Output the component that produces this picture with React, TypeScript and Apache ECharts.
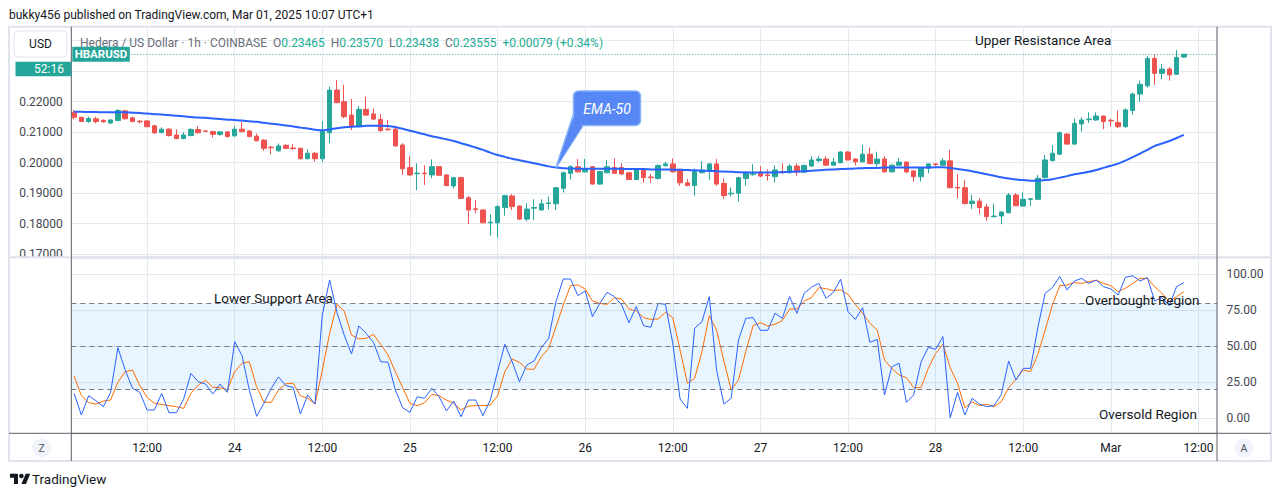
import React, { useEffect, useRef } from 'react';
import * as echarts from 'echarts';

// Hours counted from 23 Feb 2025 00:00 (UTC+1); first candle opens at 02:00.
const START_HOUR = 2;
const X_MIN = 1.618;
const X_MAX = 158.54;

const X_TICK_HOURS = [12, 24, 36, 48, 60, 72, 84, 96, 108, 120, 132, 144, 156];
const X_TICK_LABELS = ['12:00', '24', '12:00', '25', '12:00', '26', '12:00', '27', '12:00', '28', '12:00', 'Mar', '12:00'];

const OPEN = [
  0.2164, 0.2149, 0.2135, 0.2144, 0.2139, 0.2130, 0.2138, 0.2170, 0.2147, 0.2136,
  0.2137, 0.2121, 0.2099, 0.2110, 0.2091, 0.2079, 0.2089, 0.2109, 0.2104, 0.2102,
  0.2093, 0.2101, 0.2088, 0.2110, 0.2104, 0.2087, 0.2074, 0.2051, 0.2039, 0.2057,
  0.2048, 0.2047, 0.2013, 0.2031, 0.2013, 0.2098, 0.2238, 0.2200, 0.2156, 0.2120,
  0.2175, 0.2160, 0.2142, 0.2110, 0.2110, 0.2058, 0.1984, 0.1964, 0.1966, 0.1960,
  0.1987, 0.1960, 0.1924, 0.1951, 0.1885, 0.1849, 0.1845, 0.1803, 0.1803, 0.1853,
  0.1891, 0.1858, 0.1815, 0.1851, 0.1845, 0.1866, 0.1865, 0.1916, 0.1965, 0.1987,
  0.1970, 0.1987, 0.1930, 0.1967, 0.1984, 0.1984, 0.1967, 0.1945, 0.1976, 0.1953,
  0.1948, 0.1990, 0.1996, 0.1978, 0.1934, 0.1925, 0.1967, 0.1974, 0.1996, 0.1932,
  0.1898, 0.1900, 0.1948, 0.1961, 0.1969, 0.1960, 0.1954, 0.1971, 0.1967, 0.1989,
  0.1969, 0.1989, 0.2007, 0.2012, 0.1992, 0.2000, 0.2035, 0.2012, 0.2003, 0.2028,
  0.1997, 0.2012, 0.1970, 0.1992, 0.2002, 0.1973, 0.1954, 0.1982, 0.1996, 0.1992,
  0.2006, 0.1919, 0.1918, 0.1866, 0.1874, 0.1855, 0.1823, 0.1825, 0.1836, 0.1894,
  0.1858, 0.1880, 0.1880, 0.1951, 0.2007, 0.2028, 0.2094, 0.2061, 0.2127, 0.2141,
  0.2140, 0.2153, 0.2139, 0.2132, 0.2118, 0.2171, 0.2225, 0.2252, 0.2342, 0.2293,
  0.2307, 0.2290, 0.23465,
];
const HIGH = [
  0.2173, 0.2150, 0.2151, 0.2151, 0.2142, 0.2143, 0.2176, 0.2173, 0.2151, 0.2140,
  0.2140, 0.2124, 0.2116, 0.2113, 0.2109, 0.2100, 0.2113, 0.2120, 0.2107, 0.2105,
  0.2104, 0.2104, 0.2120, 0.2135, 0.2107, 0.2096, 0.2077, 0.2055, 0.2063, 0.2060,
  0.2061, 0.2050, 0.2044, 0.2036, 0.2137, 0.2249, 0.2271, 0.2255, 0.2209, 0.2186,
  0.2216, 0.2178, 0.2160, 0.2140, 0.2118, 0.2064, 0.2022, 0.1998, 0.1992, 0.2011,
  0.1989, 0.1962, 0.1954, 0.1954, 0.1891, 0.1878, 0.1848, 0.1832, 0.1861, 0.1894,
  0.1897, 0.1860, 0.1867, 0.1880, 0.1880, 0.1889, 0.1921, 0.1971, 0.1992, 0.2012,
  0.2012, 0.1989, 0.1973, 0.2009, 0.2014, 0.1998, 0.1969, 0.1978, 0.1980, 0.1963,
  0.1994, 0.2003, 0.2014, 0.1980, 0.1946, 0.1981, 0.2005, 0.1998, 0.2012, 0.1949,
  0.1919, 0.1954, 0.1973, 0.1995, 0.1989, 0.1978, 0.1991, 0.1998, 0.1995, 0.1998,
  0.1994, 0.2022, 0.2022, 0.2022, 0.2016, 0.2038, 0.2037, 0.2014, 0.2058, 0.2050,
  0.2036, 0.2022, 0.1995, 0.2015, 0.2004, 0.1975, 0.1986, 0.1998, 0.1998, 0.2015,
  0.2042, 0.1962, 0.1943, 0.1894, 0.1883, 0.1865, 0.1865, 0.1841, 0.1900, 0.1900,
  0.1903, 0.1884, 0.1960, 0.2025, 0.2058, 0.2102, 0.2096, 0.2145, 0.2149, 0.2165,
  0.2165, 0.2155, 0.2145, 0.2171, 0.2178, 0.2230, 0.2269, 0.2350, 0.2355, 0.2324,
  0.2313, 0.2369, 0.2357,
];
const LOW = [
  0.2142, 0.2133, 0.2131, 0.2129, 0.2131, 0.2128, 0.2136, 0.2142, 0.2132, 0.2129,
  0.2116, 0.2094, 0.2096, 0.2086, 0.2077, 0.2077, 0.2087, 0.2096, 0.2101, 0.2083,
  0.2088, 0.2082, 0.2086, 0.2100, 0.2083, 0.2070, 0.2039, 0.2027, 0.2036, 0.2044,
  0.2042, 0.2011, 0.2011, 0.2003, 0.2003, 0.2064, 0.2195, 0.2145, 0.2107, 0.2118,
  0.2154, 0.2140, 0.2102, 0.2105, 0.2053, 0.1960, 0.1957, 0.1910, 0.1927, 0.1949,
  0.1957, 0.1923, 0.1916, 0.1881, 0.1799, 0.1834, 0.1801, 0.1761, 0.1754, 0.1826,
  0.1845, 0.1812, 0.1807, 0.1812, 0.1843, 0.1847, 0.1845, 0.1902, 0.1945, 0.1968,
  0.1968, 0.1928, 0.1928, 0.1965, 0.1963, 0.1960, 0.1943, 0.1943, 0.1934, 0.1934,
  0.1945, 0.1987, 0.1968, 0.1924, 0.1923, 0.1892, 0.1965, 0.1943, 0.1924, 0.1882,
  0.1889, 0.1872, 0.1925, 0.1957, 0.1952, 0.1941, 0.1935, 0.1963, 0.1965, 0.1957,
  0.1967, 0.1987, 0.2001, 0.1990, 0.1990, 0.1998, 0.2007, 0.1991, 0.2001, 0.1995,
  0.1987, 0.1967, 0.1968, 0.1990, 0.1965, 0.1938, 0.1938, 0.1965, 0.1989, 0.1990,
  0.1916, 0.1883, 0.1863, 0.1848, 0.1832, 0.1810, 0.1820, 0.1798, 0.1834, 0.1857,
  0.1856, 0.1858, 0.1878, 0.1949, 0.2004, 0.2025, 0.2059, 0.2059, 0.2102, 0.2131,
  0.2138, 0.2110, 0.2118, 0.2113, 0.2115, 0.2157, 0.2200, 0.2246, 0.2255, 0.2274,
  0.2269, 0.2288, 0.23438,
];
const CLOSE = [
  0.2149, 0.2135, 0.2145, 0.2135, 0.2134, 0.2140, 0.2171, 0.2144, 0.2135, 0.2134,
  0.2118, 0.2098, 0.2110, 0.2089, 0.2079, 0.2091, 0.2109, 0.2098, 0.2103, 0.2093,
  0.2101, 0.2086, 0.2110, 0.2102, 0.2086, 0.2072, 0.2047, 0.2049, 0.2055, 0.2047,
  0.2046, 0.2013, 0.2031, 0.2013, 0.2102, 0.2238, 0.2197, 0.2151, 0.2118, 0.2175,
  0.2156, 0.2143, 0.2105, 0.2108, 0.2055, 0.1980, 0.1960, 0.1966, 0.1964, 0.1987,
  0.1959, 0.1925, 0.1951, 0.1883, 0.1845, 0.1847, 0.1803, 0.1805, 0.1856, 0.1892,
  0.1856, 0.1815, 0.1848, 0.1853, 0.1865, 0.1868, 0.1918, 0.1967, 0.1987, 0.1970,
  0.1981, 0.1930, 0.1971, 0.1987, 0.1965, 0.1963, 0.1945, 0.1976, 0.1951, 0.1951,
  0.1991, 0.1996, 0.1970, 0.1934, 0.1925, 0.1971, 0.1976, 0.1996, 0.1930, 0.1892,
  0.1900, 0.1951, 0.1969, 0.1963, 0.1956, 0.1958, 0.1976, 0.1969, 0.1989, 0.1969,
  0.1991, 0.2009, 0.2012, 0.1992, 0.2002, 0.2035, 0.2009, 0.2003, 0.2028, 0.1997,
  0.2012, 0.1970, 0.1992, 0.2002, 0.1970, 0.1954, 0.1984, 0.1996, 0.1994, 0.2006,
  0.1918, 0.1917, 0.1866, 0.1874, 0.1853, 0.1823, 0.1825, 0.1838, 0.1894, 0.1859,
  0.1880, 0.1882, 0.1949, 0.2009, 0.2031, 0.2098, 0.2061, 0.2129, 0.2140, 0.2143,
  0.2153, 0.2135, 0.2137, 0.2118, 0.2173, 0.2225, 0.2257, 0.2342, 0.2293, 0.2307,
  0.2288, 0.2345, 0.23555,
];

const EMA50 = [
  0.2167, 0.2167, 0.2166, 0.2166, 0.2165, 0.2165, 0.2165, 0.2165, 0.2164, 0.2163,
  0.2161, 0.2159, 0.2158, 0.2156, 0.2154, 0.2152, 0.2150, 0.2148, 0.2147, 0.2145,
  0.2143, 0.2141, 0.2140, 0.2138, 0.2136, 0.2134, 0.2131, 0.2128, 0.2125, 0.2122,
  0.2119, 0.2115, 0.2112, 0.2108, 0.2106, 0.2109, 0.2113, 0.2116, 0.2118, 0.2119,
  0.2121, 0.2121, 0.2121, 0.2120, 0.2117, 0.2111, 0.2105, 0.2099, 0.2093, 0.2087,
  0.2082, 0.2077, 0.2071, 0.2064, 0.2057, 0.2050, 0.2042, 0.2033, 0.2025, 0.2019,
  0.2013, 0.2008, 0.2003, 0.1998, 0.1993, 0.1988, 0.1984, 0.1982, 0.1981, 0.1980,
  0.1980, 0.1980, 0.1980, 0.1980, 0.1980, 0.1980, 0.1979, 0.1979, 0.1979, 0.1978,
  0.1978, 0.1978, 0.1977, 0.1977, 0.1976, 0.1975, 0.1974, 0.1973, 0.1972, 0.1971,
  0.1970, 0.1969, 0.1968, 0.1968, 0.1968, 0.1968, 0.1968, 0.1969, 0.1970, 0.1971,
  0.1972, 0.1974, 0.1975, 0.1977, 0.1978, 0.1979, 0.1980, 0.1981, 0.1982, 0.1983,
  0.1983, 0.1984, 0.1984, 0.1984, 0.1984, 0.1984, 0.1984, 0.1984, 0.1985, 0.1985,
  0.1983, 0.1979, 0.1976, 0.1972, 0.1967, 0.1962, 0.1957, 0.1952, 0.1948, 0.1945,
  0.1943, 0.1941, 0.1941, 0.1943, 0.1946, 0.1951, 0.1956, 0.1962, 0.1966, 0.1970,
  0.1976, 0.1983, 0.1990, 0.1997, 0.2007, 0.2018, 0.2030, 0.2042, 0.2055, 0.2063,
  0.2071, 0.2081, 0.2091,
];

const STOCH_K = [
  17.3, 2.3, 15.7, 12.2, 8.1, 18, 49, 33.5, 20.8, 18,
  5.8, 5.8, 17.3, 3.9, 3.9, 13.2, 31.2, 25.4, 23.8, 16.9,
  23.8, 18, 53.2, 43.5, 19.7, 1.4, 10.4, 20.8, 28.7, 22.7,
  21.5, 3, 16.2, 9.9, 71.7, 96, 73.6, 57.8, 44.7, 64.1,
  59, 52.8, 39.3, 38.9, 19.7, 7.4, 4.1, 15, 13.9, 20.8,
  15, 5.1, 12, 1.1, 12.7, 12.7, 1.8, 12.7, 32.4, 51.4,
  39.3, 25.4, 37, 39.8, 49, 55.5, 81, 96.7, 96.7, 85.2,
  88.4, 70.6, 79.8, 87.5, 84.5, 78.7, 66.4, 77.5, 64.3, 63.2,
  79.8, 79.1, 52, 13.4, 6.9, 62.5, 67.1, 84.5, 33.5, 9.9,
  13.9, 54.4, 69.4, 69.9, 61.1, 61.1, 72.9, 69.4, 84.5, 72.9,
  86.8, 91, 93.7, 83.3, 87.5, 96.5, 74.1, 68.7, 76.8, 52.8,
  54.8, 16.2, 35.8, 38.2, 11.1, 16.2, 38.9, 49.3, 47.9, 56.7,
  0.4, 18, 2.3, 13.9, 9.9, 8.1, 8.8, 16.6, 39.8, 26.6,
  34.7, 34.7, 63, 86.8, 90.7, 98.4, 89.1, 95.3, 97.2, 93.7,
  96, 91.4, 89.8, 85.6, 97.9, 99, 95.3, 97.7, 81.5, 83.8,
  78.2, 91.4, 94.2,
];
const STOCH_D = [
  29.4, 15.7, 10.9, 9.9, 12, 12.7, 25, 32.4, 33.5, 22.7,
  14.6, 10.4, 9.7, 8.8, 8.1, 6.9, 17.3, 23.1, 26.4, 21.5,
  21.3, 19.7, 32.4, 38.2, 39.3, 22, 11.1, 11.1, 19.7, 24,
  24.3, 15.7, 13.9, 9.9, 33.5, 59, 79.1, 74.5, 57.8, 55.1,
  55.5, 58.3, 51.4, 44, 32.4, 21.3, 10.4, 8.8, 10.9, 16.6,
  15.7, 12.7, 10.4, 5.8, 8.5, 8.8, 8.8, 9.2, 15.7, 32.4,
  41.2, 38.9, 34.2, 34, 42.8, 48.6, 63.6, 78.7, 92.1, 92.6,
  89.8, 81.5, 79.8, 79.1, 83.8, 82.8, 75.9, 74.5, 69.9, 68.7,
  69, 73.6, 69.9, 47.4, 24.3, 27.8, 46.3, 71.3, 61.3, 39.8,
  19.7, 26.6, 46.3, 64.3, 66.4, 64.1, 65.3, 67.8, 75.9, 75.9,
  81.5, 83.8, 90.7, 90, 88.6, 89.2, 86.1, 79.1, 72.9, 66,
  61.3, 40.5, 34.7, 30.1, 28.2, 21.3, 21.3, 34.7, 45.1, 51.4,
  35.2, 24.3, 7.4, 11.5, 8.8, 9.7, 8.1, 11.5, 21.3, 27,
  33.5, 32.4, 44.4, 61.3, 78.7, 92.1, 92.6, 94.2, 93.7, 94.9,
  95.8, 93.7, 92.1, 87.9, 90.3, 93.7, 97.2, 97.2, 91.4, 86.8,
  81, 84.5, 87.9,
];

const LAST_PRICE = 0.23555;
const STOCH_LEVELS = [80, 50, 20];

const UP = '#26a69a';
const DOWN = '#ef5350';
const GRID = '#e4eaf1';
const AXIS_DARK = '#5d606b';
const FONT = "Roboto, 'Noto Sans', sans-serif";

echarts.graphic.registerShape(
  'tvlogo',
  echarts.graphic.extendPath('M14 22H7V11H0V4h14v18zM28 22h-8l7.5-18h8L28 22z', {})
);

export default function App() {
  const ref = useRef<HTMLDivElement>(null);

  useEffect(() => {
    if (!ref.current) return;
    const chart = echarts.init(ref.current, null, { renderer: 'svg' });
    const hourOf = (i: number) => START_HOUR + i;
    const candles = OPEN.map((o, i) => [hourOf(i), o, CLOSE[i], LOW[i], HIGH[i]]);
    const ema = EMA50.map((v, i) => [hourOf(i), v]);
    const kLine = STOCH_K.map((v, i) => [hourOf(i), v]);
    const dLine = STOCH_D.map((v, i) => [hourOf(i), v]);

    const xLabel = (v: number) => {
      const idx = X_TICK_HOURS.findIndex((h) => Math.abs(h - v) < 1e-6);
      return idx >= 0 ? X_TICK_LABELS[idx] : '';
    };
    const baseX = {
      type: 'value',
      min: X_MIN,
      max: X_MAX,
      splitNumber: 13,
      minInterval: 12,
      maxInterval: 12,
      axisTick: { show: false },
      splitLine: { show: true, lineStyle: { color: GRID, width: 1 } },
    };

    const greyText = '#6a6d78';
    const teal = '#22ab94';

    const option: any = {
      animation: false,
      backgroundColor: '#ffffff',
      textStyle: { fontFamily: FONT },
      grid: [
        { left: 71.3, top: 26.7, width: 1145.7, height: 230 },
        { left: 71.3, top: 258, width: 1145.7, height: 175.3 },
      ],
      xAxis: [
        { ...baseX, gridIndex: 0, axisLine: { show: false, onZero: false }, axisLabel: { show: false } },
        {
          ...baseX,
          gridIndex: 1,
          axisLine: { show: true, onZero: false, lineStyle: { color: AXIS_DARK, width: 1 } },
          axisLabel: {
            show: true,
            formatter: xLabel,
            margin: 9,
            color: '#131722',
            fontSize: 12,
            fontFamily: FONT,
            showMinLabel: false,
            showMaxLabel: false,
          },
        },
      ],
      yAxis: [
        {
          type: 'value',
          gridIndex: 0,
          position: 'left',
          min: 0.16918,
          max: 0.24459,
          splitNumber: 8,
          minInterval: 0.01,
          maxInterval: 0.01,
          axisLine: { show: false },
          axisTick: { show: false },
          splitLine: { show: true, lineStyle: { color: GRID, width: 1 } },
          axisLabel: {
            margin: 8.5,
            color: '#434651',
            fontSize: 12,
            fontFamily: FONT,
            showMinLabel: false,
            showMaxLabel: false,
            formatter: (v: number) => {
              const k = Math.round(v * 100);
              if (Math.abs(v * 100 - k) > 1e-4 || v > 0.225) return '';
              return v.toFixed(5);
            },
          },
        },
        {
          type: 'value',
          gridIndex: 1,
          position: 'right',
          min: -10.4,
          max: 111.3,
          splitNumber: 5,
          minInterval: 25,
          maxInterval: 25,
          axisLine: { show: false },
          axisTick: { show: false },
          splitLine: { show: true, lineStyle: { color: GRID, width: 1 } },
          axisLabel: {
            margin: 9.5,
            color: '#434651',
            fontSize: 12,
            fontFamily: FONT,
            showMinLabel: false,
            showMaxLabel: false,
            formatter: (v: number) => {
              const r = Math.round(v);
              if (Math.abs(v - r) > 1e-6 || r % 25 !== 0 || r < 0 || r > 100) return '';
              return r.toFixed(2);
            },
          },
        },
      ],
      series: [
        {
          type: 'candlestick',
          name: 'HBARUSD',
          xAxisIndex: 0,
          yAxisIndex: 0,
          data: candles,
          encode: { x: 0, y: [1, 2, 3, 4] },
          barWidth: 5,
          itemStyle: {
            color: UP,
            color0: DOWN,
            borderColor: UP,
            borderColor0: DOWN,
            borderWidth: 1,
          },
          z: 3,
        },
        {
          type: 'line',
          name: 'EMA-50',
          xAxisIndex: 0,
          yAxisIndex: 0,
          data: ema,
          smooth: 0.3,
          showSymbol: false,
          lineStyle: { color: '#2962ff', width: 2 },
          markLine: {
            silent: true,
            precision: 6,
            symbol: ['none', 'none'],
            label: { show: false },
            lineStyle: { type: [1, 2], color: UP, width: 1 },
            data: [{ yAxis: LAST_PRICE }],
          },
          z: 4,
        },
        {
          type: 'line',
          name: '%K',
          xAxisIndex: 1,
          yAxisIndex: 1,
          data: kLine,
          showSymbol: false,
          lineStyle: { color: '#2962ff', width: 1 },
          markArea: {
            silent: true,
            itemStyle: { color: 'rgba(33,150,243,0.1)' },
            data: [[{ yAxis: 20 }, { yAxis: 80 }]],
          },
          z: 4,
        },
        {
          type: 'line',
          name: '%D',
          xAxisIndex: 1,
          yAxisIndex: 1,
          data: dLine,
          showSymbol: false,
          lineStyle: { color: '#ff6d00', width: 1 },
          markLine: {
            silent: true,
            symbol: ['none', 'none'],
            label: { show: false },
            lineStyle: { type: [5, 4], color: '#787b86', width: 1 },
            data: STOCH_LEVELS.map((v) => ({ yAxis: v })),
          },
          z: 3,
        },
      ],
      graphic: {
        elements: [
          // frame and pane separators
          { type: 'rect', silent: true, z: 90, shape: { x: 9, y: 26.7, width: 1262, height: 434.3 }, style: { fill: 'none', stroke: '#e0e3eb', lineWidth: 2 } },
          { type: 'rect', silent: true, z: 91, shape: { x: 10, y: 257.5, width: 60, height: 7 }, style: { fill: '#ffffff' } },
          { type: 'line', silent: true, z: 92, shape: { x1: 9, y1: 257.3, x2: 1271, y2: 257.3 }, style: { stroke: '#e0e3eb', lineWidth: 2 } },
          { type: 'line', silent: true, z: 93, shape: { x1: 9, y1: 433.3, x2: 1271, y2: 433.3 }, style: { stroke: AXIS_DARK, lineWidth: 1 } },
          { type: 'line', silent: true, z: 93, shape: { x1: 71.3, y1: 26.7, x2: 71.3, y2: 461 }, style: { stroke: AXIS_DARK, lineWidth: 1 } },
          { type: 'line', silent: true, z: 93, shape: { x1: 1217, y1: 26.7, x2: 1217, y2: 461 }, style: { stroke: AXIS_DARK, lineWidth: 1 } },

          // top caption
          { type: 'text', silent: true, z: 100, x: 9, y: 15, style: { text: 'bukky456 published on TradingView.com, Mar 01, 2025 10:07 UTC+1', fill: '#131722', fontSize: 12, fontFamily: FONT, verticalAlign: 'middle' } },

          // legend line
          {
            type: 'text', silent: true, z: 100, x: 80, y: 42.7,
            style: {
              text: '{g|Hedera / US Dollar · 1h · COINBASE  O}{v|0.23465}{g|  H}{v|0.23570}{g|  L}{v|0.23438}{g|  C}{v|0.23555}{v|  +0.00079 (+0.34%)}',
              fontSize: 12, fontFamily: FONT, verticalAlign: 'middle',
              rich: {
                g: { fill: greyText, fontSize: 12, fontFamily: FONT },
                v: { fill: teal, fontSize: 12, fontFamily: FONT },
              },
            },
          },

          // USD box
          { type: 'rect', silent: true, z: 100, shape: { x: 14, y: 31, width: 53, height: 26, r: 4 }, style: { fill: '#ffffff', stroke: '#e0e3eb', lineWidth: 1 } },
          { type: 'text', silent: true, z: 101, x: 40.5, y: 44, style: { text: 'USD', fill: '#131722', fontSize: 12, fontFamily: FONT, align: 'center', verticalAlign: 'middle' } },
          // countdown box
          { type: 'rect', silent: true, z: 100, shape: { x: 15.5, y: 61.7, width: 55.8, height: 14.6 }, style: { fill: UP } },
          { type: 'text', silent: true, z: 101, x: 49, y: 69.2, style: { text: '52:16', fill: '#ffffff', fontSize: 12, fontFamily: FONT, align: 'center', verticalAlign: 'middle' } },
          // symbol tag
          { type: 'rect', silent: true, z: 100, shape: { x: 72.3, y: 46.7, width: 57.5, height: 15 }, style: { fill: UP } },
          { type: 'text', silent: true, z: 101, x: 101, y: 54.4, style: { text: 'HBARUSD', fill: '#ffffff', fontSize: 11.5, fontWeight: 'bold', fontFamily: FONT, align: 'center', verticalAlign: 'middle' } },

          // annotations
          { type: 'text', silent: true, z: 100, x: 975, y: 40, style: { text: 'Upper Resistance Area', fill: '#131722', fontSize: 13.5, fontFamily: FONT, verticalAlign: 'middle' } },
          { type: 'text', silent: true, z: 100, x: 214, y: 297.5, style: { text: 'Lower Support Area', fill: '#131722', fontSize: 13.5, fontFamily: FONT, verticalAlign: 'middle' } },
          { type: 'text', silent: true, z: 100, x: 1085, y: 300, style: { text: 'Overbought Region', fill: '#131722', fontSize: 13.5, fontFamily: FONT, verticalAlign: 'middle' } },
          { type: 'text', silent: true, z: 100, x: 1099, y: 414, style: { text: 'Oversold Region', fill: '#131722', fontSize: 13.5, fontFamily: FONT, verticalAlign: 'middle' } },

          // EMA-50 callout
          { type: 'polygon', silent: true, z: 100, shape: { points: [[573.5, 114], [583, 125.5], [556, 167.6]] }, style: { fill: '#5787f5', stroke: '#86b2f7', lineWidth: 1.5 } },
          { type: 'rect', silent: true, z: 101, shape: { x: 573.5, y: 91, width: 67, height: 34.5, r: 5 }, style: { fill: '#5787f5', stroke: '#86b2f7', lineWidth: 1.5 } },
          { type: 'polygon', silent: true, z: 102, shape: { points: [[574.4, 116.5], [582.3, 126.3], [557.2, 165.5]] }, style: { fill: '#5787f5' } },
          { type: 'text', silent: true, z: 103, x: 607, y: 108.5, style: { text: 'EMA-50', fill: '#ffffff', fontSize: 14, fontStyle: 'italic', fontFamily: FONT, align: 'center', verticalAlign: 'middle' } },

          // axis corner buttons
          { type: 'circle', silent: true, z: 100, shape: { cx: 41.7, cy: 448, r: 9.5 }, style: { fill: '#f0f3fa' } },
          { type: 'text', silent: true, z: 101, x: 41.7, y: 448.5, style: { text: 'Z', fill: '#50535e', fontSize: 10.5, fontFamily: FONT, align: 'center', verticalAlign: 'middle' } },
          { type: 'circle', silent: true, z: 100, shape: { cx: 1244, cy: 448, r: 9.5 }, style: { fill: '#f0f3fa' } },
          { type: 'text', silent: true, z: 101, x: 1244, y: 448.5, style: { text: 'A', fill: '#50535e', fontSize: 10.5, fontFamily: FONT, align: 'center', verticalAlign: 'middle' } },

          // TradingView footer
          { type: 'tvlogo', silent: true, z: 100, x: 10, y: 471.5, scaleX: 0.57, scaleY: 0.57, style: { fill: '#131722' } },
          { type: 'circle', silent: true, z: 100, shape: { cx: 10 + 20 * 0.57, cy: 471.5 + 8 * 0.57, r: 4 * 0.57 }, style: { fill: '#131722' } },
          { type: 'text', silent: true, z: 100, x: 32, y: 479, style: { text: 'TradingView', fill: '#131722', fontSize: 13.5, fontFamily: FONT, verticalAlign: 'middle' } },
        ],
      },
    };

    chart.setOption(option);
    return () => chart.dispose();
  }, []);

  return (
    <div
      ref={ref}
      style={{ position: 'fixed', left: 0, top: 0, width: 1281, height: 496, background: '#ffffff' }}
    />
  );
}
